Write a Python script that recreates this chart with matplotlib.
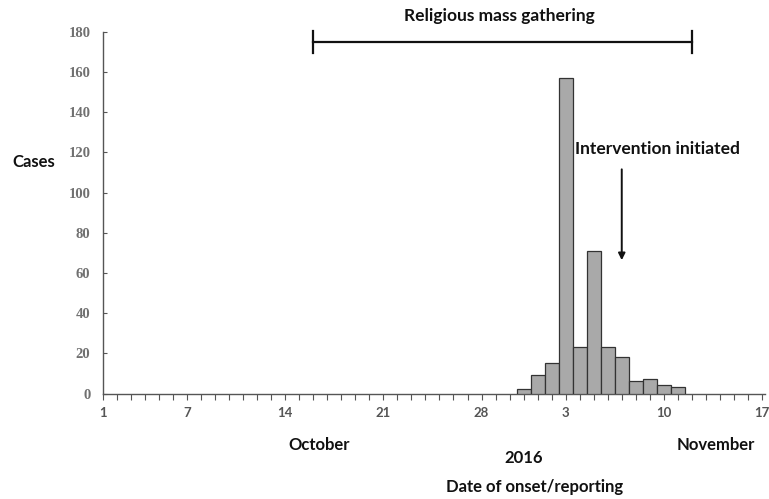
import matplotlib
matplotlib.use("Agg")
import matplotlib.pyplot as plt
import matplotlib.dates as mdates
import pandas as pd

# ---- data ----
onset_dates = ["2016-10-31", "2016-11-01", "2016-11-02", "2016-11-03",
               "2016-11-04", "2016-11-05", "2016-11-06", "2016-11-07",
               "2016-11-08", "2016-11-09", "2016-11-10", "2016-11-11"]
cases = [2, 9, 15, 157, 23, 71, 23, 18, 6, 7, 4, 3]

tick_dates = ["2016-10-01", "2016-10-07", "2016-10-14", "2016-10-21",
              "2016-10-28", "2016-11-03", "2016-11-10", "2016-11-17"]
tick_labels = ["1", "7", "14", "21", "28", "3", "10", "17"]
y_ticks = [0, 20, 40, 60, 80, 100, 120, 140, 160, 180]

gathering_start, gathering_end = "2016-10-16", "2016-11-12"
gathering_level = 175
intervention_date = "2016-11-07"
arrow_top, arrow_tip = 113, 65

x_start, x_end = "2016-10-01", "2016-11-17"

# ---- plot ----
fig = plt.figure(figsize=(7.69, 4.99), dpi=100)
ax = fig.add_axes([0.1339, 0.2114, 0.8606, 0.7245])

d = pd.to_datetime(onset_dates)
ax.bar(d, cases, width=1.0, color="#a9a9a9", edgecolor="#333333", linewidth=0.9, zorder=3)

xs = mdates.date2num(pd.Timestamp(x_start))
xe = mdates.date2num(pd.Timestamp(x_end))
ax.set_xlim(xs, xe + 0.2)
ax.set_ylim(0, 180)

ax.set_xticks(mdates.date2num(pd.to_datetime(tick_dates)))
ax.set_xticklabels(tick_labels, family="Lato", fontsize=9.5, color="#555555",
                   fontweight="bold")
all_days = pd.date_range(x_start, x_end, freq="D")
ax.set_xticks(mdates.date2num(all_days), minor=True)
ax.tick_params(axis="x", which="both", direction="out", length=4, width=0.8,
               color="#555555", pad=6)

ax.set_yticks(y_ticks)
ax.set_yticklabels([str(v) for v in y_ticks], family="Liberation Serif",
                   fontsize=10.5, color="#707070", fontweight="bold")
ax.tick_params(axis="y", direction="in", length=3, width=0.8, color="#555555", pad=9)

for s in ["top", "right"]:
    ax.spines[s].set_visible(False)
for s in ["left", "bottom"]:
    ax.spines[s].set_color("#555555")
    ax.spines[s].set_linewidth(1.0)

# gathering bar
g0 = mdates.date2num(pd.Timestamp(gathering_start))
g1 = mdates.date2num(pd.Timestamp(gathering_end))
ax.plot([g0, g1], [gathering_level, gathering_level], color="#111111", lw=1.6,
        clip_on=False)
for gx in (g0, g1):
    ax.plot([gx, gx], [gathering_level - 5.5, gathering_level + 5.5],
            color="#111111", lw=1.6, clip_on=False)
ax.text((g0 + g1) / 2 - 0.2, 188, "Religious mass gathering", ha="center", va="center",
        family="Lato", fontweight="bold", fontsize=12.5, color="#111111")

# intervention arrow
ix = mdates.date2num(pd.Timestamp(intervention_date))
ax.annotate("", xy=(ix, arrow_tip), xytext=(ix, arrow_top),
            arrowprops=dict(arrowstyle="-|>", color="#111111", lw=1.4,
                            mutation_scale=10))
ax.text(ix - 3.3, 121.5, "Intervention initiated", ha="left", va="center",
        family="Lato", fontweight="bold", fontsize=12.5, color="#111111")

# labels
kw = dict(ha="center", va="center", family="Lato", fontweight="bold",
          fontsize=12, color="#111111")
fig.text(34 / 769, 1 - 162 / 499, "Cases", **kw)
fig.text(319 / 769, 1 - 445 / 499, "October", **kw)
fig.text(716 / 769, 1 - 445 / 499, "November", **kw)
fig.text(524 / 769, 1 - 458 / 499, "2016", **kw)
fig.text(535 / 769, 1 - 487 / 499, "Date of onset/reporting", **kw)

fig.savefig("out.png", dpi=100)
